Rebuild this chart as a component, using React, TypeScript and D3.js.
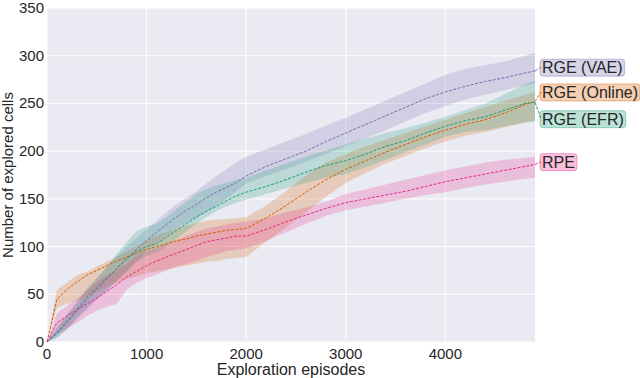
import React, { useEffect, useRef } from "react";
import * as d3 from "d3";

// episodes at which each run was sampled
const episodes = [0, 100, 200, 300, 400, 500, 600, 700, 800, 900, 1000, 1100, 1200, 1300, 1400, 1500, 1600, 1700, 1800, 1900, 2000,
  2200, 2400, 2600, 2800, 3000, 3200, 3400, 3600, 3800, 4000, 4200, 4400, 4600, 4800, 4900];

const vaeMean = [0, 9, 20, 32, 44, 55, 66, 77, 87, 97, 106, 115, 123, 131, 138, 144, 151, 157, 162, 167, 174,
  184, 192, 200, 210, 219, 228, 237, 246, 255, 262, 268, 273, 277, 282, 284];
const vaeLow = [0, 4, 13, 24, 34, 44, 54, 64, 75, 85, 95, 104, 112, 119, 125, 130, 136, 143, 150, 158, 166,
  174, 181, 189, 197, 205, 213, 222, 231, 240, 247, 254, 259, 264, 269, 271];
const vaeHigh = [0, 15, 28, 41, 54, 66, 78, 90, 100, 109, 118, 127, 136, 144, 151, 158, 166, 174, 181, 188, 194,
  202, 210, 218, 227, 235, 244, 253, 262, 271, 280, 286, 290, 294, 300, 303];

const onlineMean = [0, 45, 55, 63, 70, 75, 80, 85, 89, 93, 97, 100, 103, 106, 108, 111, 113, 115, 117, 118, 119,
  130, 143, 157, 170, 181, 190, 199, 207, 215, 222, 228, 233, 240, 249, 252];
const onlineLow = [0, 36, 40, 43, 48, 53, 58, 62, 66, 69, 72, 74, 76, 78, 80, 82, 84, 85, 87, 88, 89,
  105, 120, 136, 152, 167, 177, 187, 195, 203, 210, 216, 220, 225, 230, 232];
const onlineHigh = [0, 55, 62, 70, 74, 79, 84, 89, 95, 100, 107, 111, 115, 119, 122, 125, 127, 128, 129, 130, 131,
  143, 158, 175, 188, 197, 205, 212, 219, 226, 233, 240, 246, 253, 259, 262];

const efrMean = [0, 10, 22, 34, 47, 57, 67, 77, 88, 95, 100, 103, 110, 117, 124, 131, 137, 142, 148, 153, 157,
  163, 170, 178, 185, 190, 197, 205, 211, 219, 226, 232, 236, 243, 250, 251];
const efrLow = [0, 5, 14, 25, 36, 46, 55, 64, 73, 84, 90, 94, 100, 108, 116, 124, 131, 137, 142, 146, 149,
  155, 161, 167, 172, 176, 183, 191, 199, 207, 215, 220, 222, 226, 230, 231];
const efrHigh = [0, 15, 29, 42, 56, 67, 79, 92, 105, 116, 121, 124, 131, 139, 147, 155, 160, 164, 167, 170, 172,
  180, 187, 194, 201, 207, 213, 219, 224, 230, 236, 243, 250, 260, 270, 274];

const rpeMean = [0, 20, 27, 34, 40, 46, 53, 60, 68, 74, 80, 85, 89, 93, 97, 101, 105, 107, 109, 111, 111,
  118, 126, 133, 140, 146, 150, 154, 158, 163, 168, 172, 176, 180, 184, 186];
const rpeLow = [0, 8, 14, 20, 27, 33, 37, 40, 55, 62, 67, 71, 75, 79, 82, 85, 89, 92, 95, 97, 98,
  106, 115, 124, 132, 138, 142, 146, 150, 154, 157, 161, 165, 168, 171, 172];
const rpeHigh = [0, 30, 38, 45, 54, 63, 70, 75, 82, 90, 95, 99, 103, 107, 111, 115, 119, 121, 123, 125, 126,
  130, 136, 141, 147, 155, 160, 165, 170, 175, 180, 184, 188, 191, 193, 194];

const seriesNames = ["RGE (VAE)", "RGE (Online)", "RGE (EFR)", "RPE"];
const seriesColors = ["#7570b3", "#d95f02", "#1b9e77", "#e7298a"];
const labelY = [288, 262, 234, 189];

const yTicks = [0, 50, 100, 150, 200, 250, 300, 350];
const xTicks = [0, 1000, 2000, 3000, 4000];

export default function App() {
  const ref = useRef<SVGSVGElement>(null);

  useEffect(() => {
    const svg = d3.select(ref.current);
    svg.selectAll("*").remove();

    const left = 47, right = 535, top = 8, bottom = 342;
    const x = d3.scaleLinear().domain([0, 4900]).range([left, right]);
    const y = d3.scaleLinear().domain([0, 350]).range([bottom, top]);
    const font = "'Liberation Sans', Arial, sans-serif";
    const ink = "#262626";

    svg.append("rect").attr("x", left).attr("y", top)
      .attr("width", right - left).attr("height", bottom - top).attr("fill", "#eaeaf2");

    svg.append("g").selectAll("line").data(yTicks).join("line")
      .attr("x1", left).attr("x2", right).attr("y1", d => y(d)).attr("y2", d => y(d))
      .attr("stroke", "#fff").attr("stroke-width", 1);
    svg.append("g").selectAll("line").data(xTicks).join("line")
      .attr("x1", d => x(d)).attr("x2", d => x(d)).attr("y1", top).attr("y2", bottom)
      .attr("stroke", "#fff").attr("stroke-width", 1);

    const means = [vaeMean, onlineMean, efrMean, rpeMean];
    const lows = [vaeLow, onlineLow, efrLow, rpeLow];
    const highs = [vaeHigh, onlineHigh, efrHigh, rpeHigh];

    means.forEach((m, k) => {
      const band = d3.area<number>()
        .x(i => x(episodes[i]))
        .y0(i => y(lows[k][i]))
        .y1(i => y(highs[k][i]));
      svg.append("path").datum(d3.range(episodes.length))
        .attr("d", band).attr("fill", seriesColors[k]).attr("fill-opacity", 0.22);
    });

    means.forEach((m, k) => {
      const line = d3.line<number>().x((d, i) => x(episodes[i])).y(d => y(d));
      svg.append("path").datum(m).attr("d", line)
        .attr("fill", "none").attr("stroke", seriesColors[k])
        .attr("stroke-width", 1).attr("stroke-dasharray", "3,1.5");
    });

    // end labels with connectors
    means.forEach((m, k) => {
      const ly = y(labelY[k]);
      const endY = y(m[m.length - 1]);
      svg.append("line").attr("x1", right).attr("y1", endY).attr("x2", 541).attr("y2", ly)
        .attr("stroke", seriesColors[k]).attr("stroke-width", 1).attr("stroke-dasharray", "3,1.5");
      const t = svg.append("text").attr("x", 542).attr("y", ly + 6)
        .attr("font-family", font).attr("font-size", 16).attr("fill", ink)
        .text(seriesNames[k]);
      const bb = (t.node() as SVGTextElement).getBBox();
      svg.insert("rect", () => t.node() as any)
        .attr("x", bb.x - 2).attr("y", bb.y).attr("width", bb.width + 4).attr("height", bb.height)
        .attr("rx", 3).attr("fill", seriesColors[k]).attr("fill-opacity", 0.3)
        .attr("stroke", seriesColors[k]).attr("stroke-opacity", 0.4);
    });

    svg.append("g").selectAll("text").data(yTicks).join("text")
      .attr("x", left - 3).attr("y", d => y(d) + 5).attr("text-anchor", "end")
      .attr("font-family", font).attr("font-size", 15).attr("fill", ink)
      .text(d => d);
    svg.append("g").selectAll("text").data(xTicks).join("text")
      .attr("x", d => x(d)).attr("y", bottom + 17).attr("text-anchor", "middle")
      .attr("font-family", font).attr("font-size", 15).attr("fill", ink)
      .text(d => d);

    svg.append("text").attr("x", x(2450)).attr("y", 375).attr("text-anchor", "middle")
      .attr("font-family", font).attr("font-size", 16).attr("fill", ink)
      .text("Exploration episodes");
    svg.append("text").attr("transform", `translate(13,${(top + bottom) / 2}) rotate(-90)`)
      .attr("text-anchor", "middle")
      .attr("font-family", font).attr("font-size", 15).attr("fill", ink)
      .text("Number of explored cells");
  }, []);

  return (
    <svg ref={ref} width={640} height={378} style={{ position: "absolute", left: 0, top: 0 }} />
  );
}
